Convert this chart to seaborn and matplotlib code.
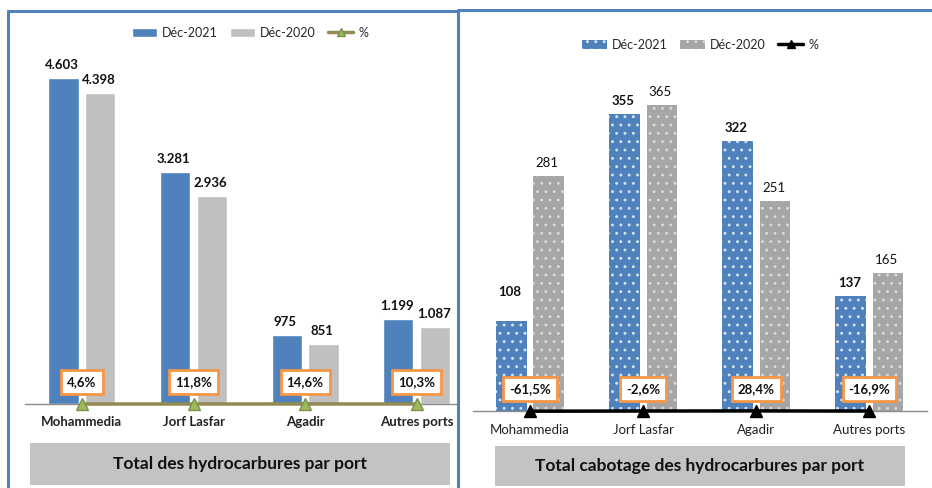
import matplotlib
matplotlib.use("Agg")
import matplotlib.pyplot as plt
from matplotlib.patches import Rectangle, Patch
from matplotlib.lines import Line2D
import pandas as pd
import seaborn as sns

# ── Data ─────────────────────────────────────────────────────────
PORTS = ["Mohammedia", "Jorf Lasfar", "Agadir", "Autres ports"]
PERIODS = ["Déc-2021", "Déc-2020"]

TOTAL_2021 = [4603, 3281, 975, 1199]
TOTAL_2020 = [4398, 2936, 851, 1087]
TOTAL_PCT = [4.6, 11.8, 14.6, 10.3]

CABO_2021 = [108, 355, 322, 137]
CABO_2020 = [281, 365, 251, 165]
CABO_PCT = [-61.5, -2.6, 28.4, -16.9]

LEFT_TITLE = "Total des hydrocarbures par port"
RIGHT_TITLE = "Total cabotage des hydrocarbures par port"

BLUE = "#4F81BD"
GRAY_L = "#C0C0C0"
GRAY_R = "#A6A6A6"
ORANGE = "#F79646"
FRAME = "#4F81BD"

W, H = 932, 488

sns.set_style("white")
plt.rcParams["font.family"] = ["Lato", "DejaVu Sans"]
plt.rcParams["hatch.linewidth"] = 0.9


def px_rect(x0, y0, x1, y1):
    return [x0 / W, 1 - y1 / H, (x1 - x0) / W, (y1 - y0) / H]


def long_df(v21, v20):
    rows = []
    for p, a, b in zip(PORTS, v21, v20):
        rows.append({"port": p, "period": PERIODS[0], "value": a})
        rows.append({"port": p, "period": PERIODS[1], "value": b})
    return pd.DataFrame(rows)


def fmt_thousands(v):
    return f"{v:,}".replace(",", ".")


def fmt_pct(v):
    return f"{v:.1f}%".replace(".", ",")


def draw_panel(ax, df, colors, pct, line_color, marker_color, marker_edge,
               bold_ticks, bold_gray, xlim, ylim, label_fmt, nudges):
    sns.barplot(data=df, x="port", y="value", hue="period", order=PORTS,
                hue_order=PERIODS, palette=colors, saturation=1, width=0.66,
                gap=0.18, legend=False, ax=ax)
    ax.set_xlim(*xlim)
    ax.set_ylim(*ylim)
    ax.set_xlabel("")
    ax.set_ylabel("")
    ax.set_yticks([])
    for s in ["top", "right", "left"]:
        ax.spines[s].set_visible(False)
    ax.spines["bottom"].set_color("#8C8C8C")
    ax.spines["bottom"].set_linewidth(1)
    ax.tick_params(axis="x", length=0, pad=9)
    for t in ax.get_xticklabels():
        t.set_fontsize(9.5)
        t.set_fontweight("bold" if bold_ticks else "normal")
        t.set_color("#222222")
    ax.patch.set_alpha(0)

    # value labels
    for k, cont in enumerate(ax.containers):
        for i, bar in enumerate(cont):
            h = bar.get_height()
            extra = nudges.get((k, i), 0)
            weight = "bold" if (k == 0 or bold_gray) else "normal"
            ax.annotate(label_fmt(int(h)),
                        (bar.get_x() + bar.get_width() / 2, h),
                        xytext=(-1, 5 + extra), textcoords="offset points",
                        ha="center", va="bottom", fontsize=9.5,
                        fontweight=weight, color="#111111")

    # % line on a secondary scale (as in the source spreadsheet)
    ax2 = ax.twinx()
    ax2.set_ylim(0, 1e5)
    ax2.plot(range(len(PORTS)), pct, color=line_color, lw=2.5,
             marker="^", ms=8, mfc=marker_color, mec=marker_edge,
             clip_on=False, zorder=5)
    ax2.set_axis_off()
    for i, v in enumerate(pct):
        ax2.annotate(fmt_pct(v), (i, 0), xytext=(0, 16),
                     textcoords="offset points", ha="center", va="center",
                     fontsize=9.5, fontweight="bold", color="#111111",
                     bbox=dict(boxstyle="square,pad=0.45", fc="white",
                               ec=ORANGE, lw=2), zorder=6)
    return ax2


fig = plt.figure(figsize=(W / 100, H / 100), dpi=100)

# ── Left panel ───────────────────────────────────────────────────
axL = fig.add_axes(px_rect(25, 50, 458, 404))
draw_panel(axL, long_df(TOTAL_2021, TOTAL_2020), [BLUE, GRAY_L], TOTAL_PCT,
           "#948A54", "#9BBB59", "#7F8F4F", True, True,
           (-0.51, 3.37), (0, 5000), fmt_thousands, {})

# ── Right panel ──────────────────────────────────────────────────
axR = fig.add_axes(px_rect(473, 76, 927, 411))
draw_panel(axR, long_df(CABO_2021, CABO_2020), [BLUE, GRAY_R], CABO_PCT,
           "black", "black", "black", False, False,
           (-0.505, 3.51), (0, 400), str, {(0, 0): 11})
for k, cont in enumerate(axR.containers):
    for bar in cont:
        bar.set_hatch("..")
        bar.set_edgecolor("#D8E3F0" if k == 0 else "#DADADA")
        bar.set_linewidth(0)

# ── Legends ──────────────────────────────────────────────────────
leg_kw = dict(loc="center", ncol=3, frameon=False, fontsize=9,
              handlelength=2.0, handleheight=0.8, columnspacing=1.0,
              handletextpad=0.4)
hl = [Patch(fc=BLUE, label=PERIODS[0]), Patch(fc=GRAY_L, label=PERIODS[1]),
      Line2D([], [], color="#948A54", lw=2.5, marker="^", ms=6,
             mfc="#9BBB59", mec="#7F8F4F", label="%")]
fig.legend(handles=hl, bbox_to_anchor=(250 / W, 1 - 33 / H), **leg_kw)
hr = [Patch(fc=BLUE, ec="#D8E3F0", hatch="..", lw=0, label=PERIODS[0]),
      Patch(fc=GRAY_R, ec="#DADADA", hatch="..", lw=0, label=PERIODS[1]),
      Line2D([], [], color="black", lw=2.5, marker="^", ms=6,
             mfc="black", mec="black", label="%")]
fig.legend(handles=hr, bbox_to_anchor=(700 / W, 1 - 45 / H), **leg_kw)

# ── Title boxes ──────────────────────────────────────────────────
for (x0, y0, x1, y1), title in [((30, 443, 450, 485), LEFT_TITLE),
                                ((495, 446, 905, 486), RIGHT_TITLE)]:
    r = px_rect(x0, y0, x1, y1)
    fig.add_artist(Rectangle((r[0], r[1]), r[2], r[3], transform=fig.transFigure,
                             fc="#C3C3C3", ec="none"))
    fig.text(r[0] + r[2] / 2, r[1] + r[3] / 2, title, ha="center",
             va="center", fontsize=12.5, fontweight="bold", color="#111111")

# ── Panel frames ─────────────────────────────────────────────────
for xs, ys in [([8, 8], [H, 11]), ([8, 458], [11, 11]), ([458, 458], [11, H]),
               ([458, W], [10, 10])]:
    fig.add_artist(Line2D([x / W for x in xs], [1 - y / H for y in ys],
                          transform=fig.transFigure, color=FRAME, lw=2.2))

fig.savefig("out.png", dpi=100)
